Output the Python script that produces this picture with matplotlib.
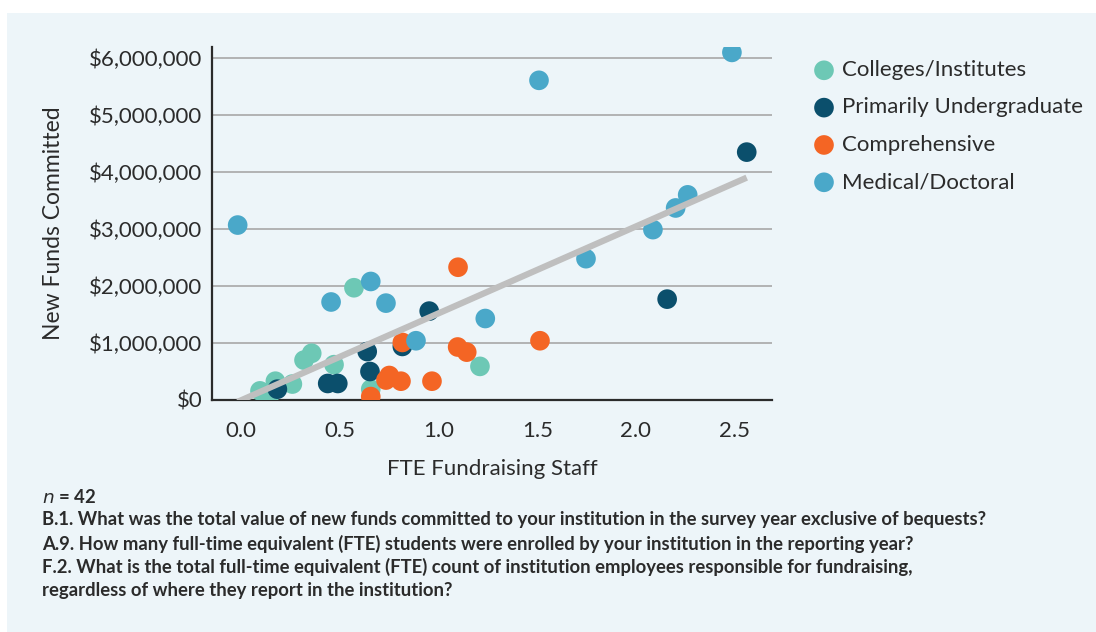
import numpy as np
import matplotlib.pyplot as plt
from matplotlib.patches import Rectangle
from matplotlib.ticker import FuncFormatter

plt.rcParams['font.family'] = ['Lato', 'DejaVu Sans']

# FTE fundraising staff (x) and new funds committed in $M (y), by institution type
col_x = [0.572, 1.210, 0.471, 0.358, 0.319, 0.260, 0.174, 0.096, 0.140, 0.657]
col_y = [1.97, 0.59, 0.62, 0.82, 0.70, 0.28, 0.33, 0.16, 0.02, 0.19]

und_x = [0.953, 0.817, 0.639, 0.653, 0.184, 0.439, 0.490, 2.158, 2.561]
und_y = [1.56, 0.94, 0.85, 0.50, 0.19, 0.29, 0.29, 1.77, 4.35]

com_x = [1.099, 0.817, 1.097, 1.143, 0.657, 0.751, 0.734, 0.810, 0.967, 1.514]
com_y = [2.33, 1.01, 0.93, 0.84, 0.06, 0.43, 0.35, 0.33, 0.33, 1.04]

med_x = [-0.017, 0.657, 0.456, 0.734, 1.237, 0.886, 1.747, 1.509, 2.486, 2.262, 2.201, 2.086]
med_y = [3.07, 2.08, 1.72, 1.70, 1.43, 1.04, 2.48, 5.61, 6.10, 3.60, 3.37, 2.99]

groups = [
    ('Colleges/Institutes', col_x, col_y, '#6dc8b5'),
    ('Primarily Undergraduate', und_x, und_y, '#0b4f6c'),
    ('Comprehensive', com_x, com_y, '#f46524'),
    ('Medical/Doctoral', med_x, med_y, '#4aa8c9'),
]

notes = [
    'B.1. What was the total value of new funds committed to your institution in the survey year exclusive of bequests?',
    'A.9. How many full-time equivalent (FTE) students were enrolled by your institution in the reporting year?',
    'F.2. What is the total full-time equivalent (FTE) count of institution employees responsible for fundraising,',
    'regardless of where they report in the institution?',
]

fig = plt.figure(figsize=(10.96, 6.32), dpi=100)
fig.patches.append(Rectangle((7 / 1096, 0), 1, 1 - 13 / 632, transform=fig.transFigure,
                             facecolor='#edf5f9', edgecolor='none', zorder=-10))

ax = fig.add_axes([212 / 1096, 1 - 400 / 632, 560 / 1096, 353.3 / 632])
ax.set_facecolor('none')

for name, xs, ys, c in groups:
    ax.scatter(np.array(xs), np.array(ys) * 1e6, s=200, color=c, label=name,
               edgecolors='none', zorder=3)

# linear trend over all points
all_x = np.concatenate([g[1] for g in groups])
all_y = np.concatenate([g[2] for g in groups]) * 1e6
k, m = np.polyfit(all_x, all_y, 1)
tx = np.array([all_x.min(), all_x.max()])
ax.plot(tx, k * tx + m, color='#bfbfbf', lw=4.5, solid_capstyle='butt', zorder=4)

ax.set_xlim(-0.147, 2.689)
ax.set_ylim(0, 6.2e6)
ax.set_xticks([0, 0.5, 1.0, 1.5, 2.0, 2.5])
ax.set_yticks(np.arange(0, 6.01e6, 1e6))
ax.yaxis.set_major_formatter(FuncFormatter(lambda v, p: '${:,.0f}'.format(v)))
ax.xaxis.set_major_formatter(FuncFormatter(lambda v, p: '{:.1f}'.format(v)))
ax.grid(axis='y', color='#a8a8a8', lw=1.2, zorder=0)
ax.tick_params(length=0, labelsize=16, colors='#2b2b2b')
ax.tick_params(axis='y', pad=7)
ax.tick_params(axis='x', pad=15)
for s in ['top', 'right']:
    ax.spines[s].set_visible(False)
for s in ['left', 'bottom']:
    ax.spines[s].set_color('#2b2b2b')
    ax.spines[s].set_linewidth(1.6)

ax.set_xlabel('FTE Fundraising Staff', fontsize=16, color='#2b2b2b', labelpad=13)
ax.set_ylabel('New Funds Committed', fontsize=16.5, color='#2b2b2b', labelpad=18)

ax.legend(loc='upper left', bbox_to_anchor=(1.073, 0.962), frameon=False, fontsize=16,
          handlelength=1.0, handletextpad=0.3, labelspacing=0.78, markerscale=1.0,
          borderaxespad=0, borderpad=0, labelcolor='#2b2b2b')

fig.text(42 / 1096, 1 - 497 / 632, r'$\it{n}$ = 42', fontsize=13.3, fontweight='bold',
         color='#2b2b2b', va='center')
for i, line in enumerate(notes):
    fig.text(42 / 1096, 1 - (520 + 23.5 * i) / 632, line, fontsize=13.3, fontweight='bold',
             color='#2b2b2b', va='center')

fig.savefig('out.png', dpi=100)
